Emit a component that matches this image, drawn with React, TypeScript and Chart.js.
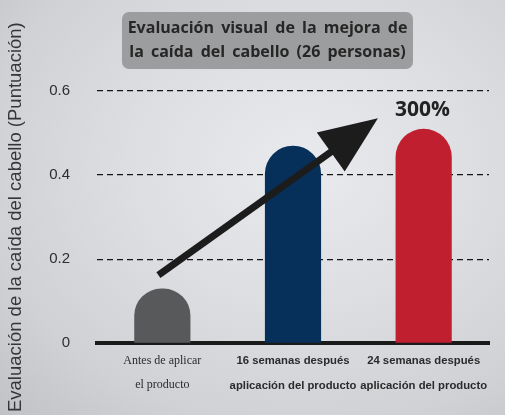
import React, { useEffect, useRef } from "react";
import { Chart, registerables } from "chart.js";

Chart.register(...registerables);

const CATEGORIES: string[][] = [
  ["Antes de aplicar", "el producto"],
  ["16 semanas después", "aplicación del producto"],
  ["24 semanas después", "aplicación del producto"],
];
const VALUES: number[] = [0.13, 0.47, 0.51];
const BAR_COLORS: string[] = ["#58595b", "#06305a", "#c01f2f"];
const Y_TICKS: number[] = [0, 0.2, 0.4, 0.6];
const Y_TICK_LABELS: string[] = ["0", "0.2", "0.4", "0.6"];
const TITLE_LINES: string[] = ["Evaluación visual de la mejora de", "la caída del cabello (26 personas)"];
const Y_TITLE = "Evaluación de la caída del cabello (Puntuación)";
// arrow from/to in (category index, value) data coordinates
const ARROW_FROM: number[] = [-0.03, 0.162];
const ARROW_TO: number[] = [1.65, 0.535];
const GROWTH_LABEL = "300%";
const GROWTH_POS: number[] = [1.99, 0.555];

const titleBoxPlugin = {
  id: "titleBox",
  beforeDraw(chart: any) {
    const ctx = chart.ctx;
    ctx.save();
    const x = 122, y = 12, w = 291, h = 57;
    ctx.fillStyle = "#9c9d9f";
    ctx.beginPath();
    (ctx as any).roundRect(x, y, w, h, 7);
    ctx.fill();
    ctx.fillStyle = "#262626";
    ctx.font = "bold 16px 'Open Sans', 'Liberation Sans', sans-serif";
    try { (ctx as any).wordSpacing = "3px"; } catch (e) {}
    ctx.textAlign = "center";
    ctx.textBaseline = "middle";
    TITLE_LINES.forEach((line, i) => {
      ctx.fillText(line, x + w / 2, 28 + i * 24);
    });
    ctx.restore();
  },
};

const arrowPlugin = {
  id: "arrowAnno",
  afterDatasetsDraw(chart: any) {
    const xs = chart.scales.x;
    const ys = chart.scales.y;
    const ctx = chart.ctx;
    const x1 = xs.getPixelForValue(ARROW_FROM[0]);
    const y1 = ys.getPixelForValue(ARROW_FROM[1]);
    const x2 = xs.getPixelForValue(ARROW_TO[0]);
    const y2 = ys.getPixelForValue(ARROW_TO[1]);
    const ang = Math.atan2(y2 - y1, x2 - x1);
    const headLen = 58;
    const headHalf = 24;
    const bx = x2 - headLen * Math.cos(ang);
    const by = y2 - headLen * Math.sin(ang);
    ctx.save();
    ctx.strokeStyle = "#1c1c1c";
    ctx.fillStyle = "#1c1c1c";
    ctx.lineWidth = 7;
    ctx.beginPath();
    ctx.moveTo(x1, y1);
    ctx.lineTo(bx + 6 * Math.cos(ang), by + 6 * Math.sin(ang));
    ctx.stroke();
    ctx.beginPath();
    ctx.moveTo(x2, y2);
    ctx.lineTo(bx + headHalf * Math.sin(ang), by - headHalf * Math.cos(ang));
    ctx.lineTo(bx - headHalf * Math.sin(ang), by + headHalf * Math.cos(ang));
    ctx.closePath();
    ctx.fill();

    const tx = xs.getPixelForValue(GROWTH_POS[0]);
    const ty = ys.getPixelForValue(GROWTH_POS[1]);
    ctx.font = "bold 21px 'Open Sans', 'Liberation Sans', sans-serif";
    ctx.fillStyle = "#222222";
    ctx.textAlign = "center";
    ctx.textBaseline = "middle";
    ctx.fillText(GROWTH_LABEL, tx, ty);
    ctx.restore();
  },
};

export default function App() {
  const canvasRef = useRef<HTMLCanvasElement | null>(null);

  useEffect(() => {
    if (!canvasRef.current) return;
    const chart = new Chart(canvasRef.current, {
      type: "bar",
      data: {
        labels: CATEGORIES,
        datasets: [
          {
            data: VALUES,
            backgroundColor: BAR_COLORS,
            borderWidth: 0,
            borderSkipped: "bottom",
            borderRadius: { topLeft: 40, topRight: 40, bottomLeft: 0, bottomRight: 0 },
            barPercentage: 0.43,
            categoryPercentage: 1,
          },
        ],
      },
      options: {
        animation: false,
        responsive: false,
        layout: { padding: { top: 91, left: 4, right: 16, bottom: 12 } },
        plugins: {
          legend: { display: false },
          title: { display: false },
          tooltip: { enabled: false },
        },
        scales: {
          x: {
            grid: { display: false, drawTicks: false },
            border: { display: true, width: 4, color: "#1a1a1a" },
            afterFit: (scale: any) => {
              scale.paddingLeft = 0;
              scale.paddingRight = 0;
            },
            ticks: {
              autoSkip: false,
              maxRotation: 0,
              minRotation: 0,
              padding: 5,
              color: "#2b2b2b",
              font: (ctx: any) =>
                ctx.index === 0
                  ? { family: "'Liberation Serif', 'Times New Roman', serif", size: 12, weight: "normal", lineHeight: 2.05 }
                  : { family: "'Liberation Sans', Arial, sans-serif", size: 11.3, weight: "bold", lineHeight: 2.2 },
            },
          },
          y: {
            min: 0,
            max: 0.6,
            afterBuildTicks: (axis: any) => {
              axis.ticks = Y_TICKS.map((v) => ({ value: v }));
            },
            afterFit: (scale: any) => {
              scale.width = 93;
            },
            grid: {
              drawTicks: false,
              color: (ctx: any) => (ctx.tick && ctx.tick.value === 0 ? "rgba(0,0,0,0)" : "#151515"),
              lineWidth: 1.3,
            },
            border: { display: false, dash: [6, 4] },
            ticks: {
              padding: 27,
              color: "#2e2e2e",
              font: { family: "'Liberation Sans', Arial, sans-serif", size: 15 },
              callback: (value: any) => {
                const i = Y_TICKS.indexOf(Number(value));
                return i >= 0 ? Y_TICK_LABELS[i] : "";
              },
            },
            title: {
              display: true,
              text: Y_TITLE,
              color: "#363636",
              font: { family: "'Liberation Sans', Arial, sans-serif", size: 18.5 },
              padding: { top: 1, bottom: 0 },
            },
          },
        },
      },
      plugins: [titleBoxPlugin, arrowPlugin],
    });
    return () => chart.destroy();
  }, []);

  return (
    <div
      style={{
        position: "fixed",
        left: 0,
        top: 0,
        width: 505,
        height: 415,
        background:
          "radial-gradient(ellipse at 60% 40%, #e8eaee 0%, #dcdee2 40%, #cfd1d5 75%, #c0c2c6 100%)",
      }}
    >
      <canvas ref={canvasRef} width={505} height={415} style={{ display: "block" }} />
    </div>
  );
}
